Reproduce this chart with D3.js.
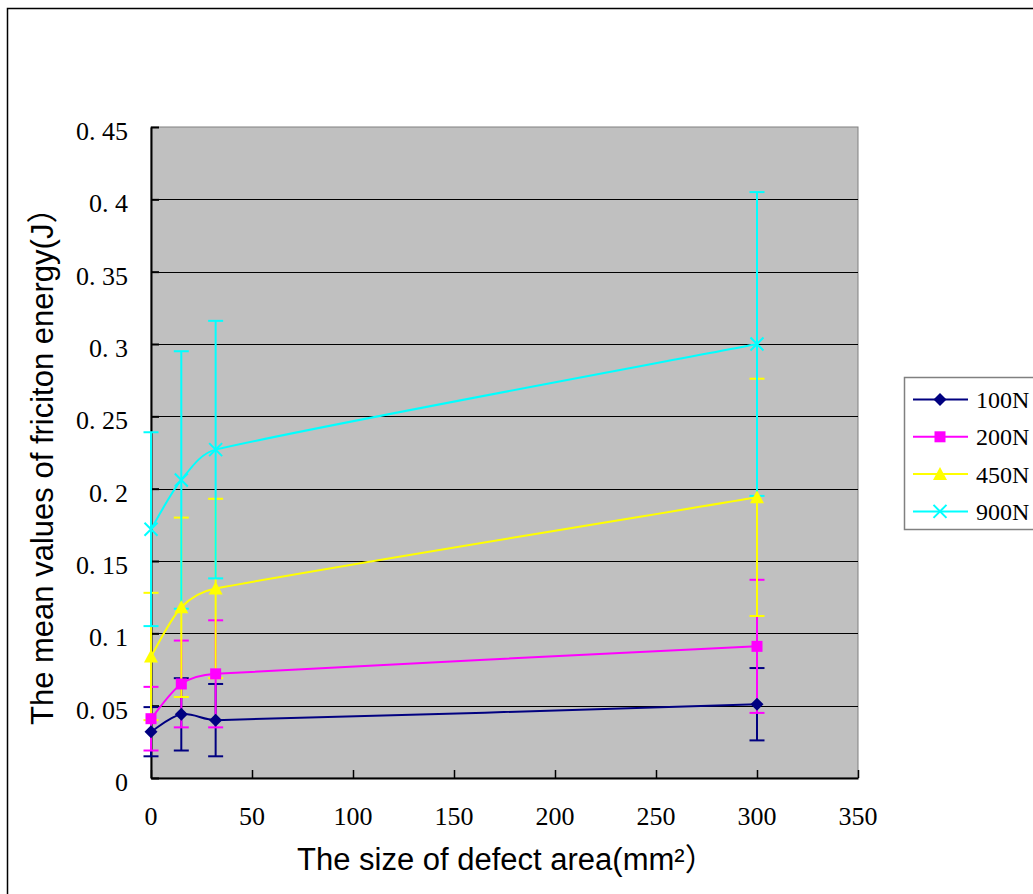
<!DOCTYPE html>
<html>
<head>
<meta charset="utf-8">
<script src="https://cdn.jsdelivr.net/npm/d3@7"></script>
<style>
  html, body { margin: 0; padding: 0; background: #fff; }
  svg { display: block; }
</style>
</head>
<body>
<svg></svg>
<script>
  // defect area (mm²)
  const areas = [0, 15, 32, 300]

  const seriesNames = ['100N', '200N', '450N', '900N']
  const mean100 = [0.032, 0.044, 0.040, 0.051]
  const err100 = [0.017, 0.025, 0.025, 0.025]
  const mean200 = [0.041, 0.065, 0.072, 0.091]
  const err200 = [0.022, 0.030, 0.037, 0.046]
  const mean450 = [0.084, 0.118, 0.131, 0.194]
  const err450 = [0.044, 0.062, 0.062, 0.082]
  const mean900 = [0.172, 0.206, 0.227, 0.300]
  const err900 = [0.067, 0.089, 0.089, 0.105]

  const colors = ['#000080', '#ff00ff', '#ffff00', '#00ffff']
  const shapes = ['diamond', 'square', 'triangle', 'cross']

  const xTicks = [0, 50, 100, 150, 200, 250, 300, 350]
  const yTicks = [0, 0.05, 0.1, 0.15, 0.2, 0.25, 0.3, 0.35, 0.4, 0.45]

  const xTitle = 'The size of defect area(mm²）'
  const yTitle = 'The mean values of friciton energy(J）'

  const width = 1033
  const height = 894
  const plot = { left: 151, right: 858, top: 127, bottom: 778 }

  const means = [mean100, mean200, mean450, mean900]
  const errs = [err100, err200, err450, err900]
  const series = seriesNames.map((name, i) => ({
    name,
    color: colors[i],
    shape: shapes[i],
    points: areas.map((a, j) => ({ x: a, y: means[i][j], e: errs[i][j] }))
  }))

  const svg = d3.select('svg').
    attr('width', width).
    attr('height', height)

  // outer chart frame
  svg.append('rect').
    attr('x', 7.5).attr('y', 8.5).
    attr('width', 1040).attr('height', 900).
    attr('fill', '#fff').
    attr('stroke', '#000').attr('stroke-width', 1.5)

  const x = d3.scaleLinear().domain([0, 350]).range([plot.left, plot.right])
  const y = d3.scaleLinear().domain([0, 0.45]).range([plot.bottom, plot.top])

  // plot area
  svg.append('rect').
    attr('x', plot.left).attr('y', plot.top).
    attr('width', plot.right - plot.left).
    attr('height', plot.bottom - plot.top).
    attr('fill', '#c0c0c0').
    attr('stroke', '#808080').attr('stroke-width', 1)

  svg.append('g').
    selectAll('line').data(yTicks.filter(t => t > 0 && t < 0.45)).
    enter().append('line').
    attr('x1', plot.left).attr('x2', plot.right).
    attr('y1', d => Math.round(y(d)) + 0.5).
    attr('y2', d => Math.round(y(d)) + 0.5).
    attr('stroke', '#000').attr('stroke-width', 1)

  const fmt = d => d === 0 ? '0' : d3.format('.2~f')(d).replace('.', '. ')

  // y axis: ticks inside
  const yAxis = svg.append('g').
    attr('transform', `translate(${plot.left},0)`).
    call(d3.axisRight(y).tickValues(yTicks).tickSizeInner(8).tickSizeOuter(0).tickFormat(''))
  yAxis.select('.domain').attr('stroke', '#000').attr('stroke-width', 2)
  yAxis.selectAll('.tick line').attr('stroke', '#000').attr('stroke-width', 2)

  svg.append('g').
    selectAll('text').data(yTicks).
    enter().append('text').
    attr('x', 128).
    attr('y', d => y(d) + 13).
    attr('text-anchor', 'end').
    attr('font-family', '"Liberation Serif", "DejaVu Serif", serif').
    attr('font-size', 26).
    attr('fill', '#000').
    style('white-space', 'pre').
    text(fmt)

  // x axis: ticks inside
  const xAxis = svg.append('g').
    attr('transform', `translate(0,${plot.bottom})`).
    call(d3.axisTop(x).tickValues(xTicks).tickSizeInner(8).tickSizeOuter(0).tickFormat(''))
  xAxis.select('.domain').attr('stroke', '#000').attr('stroke-width', 2)
  xAxis.selectAll('.tick line').attr('stroke', '#000').attr('stroke-width', 1.5)

  svg.append('g').
    selectAll('text').data(xTicks).
    enter().append('text').
    attr('x', d => x(d)).
    attr('y', plot.bottom + 47).
    attr('text-anchor', 'middle').
    attr('font-family', '"Liberation Serif", "DejaVu Serif", serif').
    attr('font-size', 26).
    attr('fill', '#000').
    text(d => d)

  // axis titles
  svg.append('text').
    attr('x', 297).attr('y', 870).
    attr('font-family', '"Liberation Sans", Arial, "Noto Sans CJK SC", sans-serif').
    attr('font-size', 31).
    attr('fill', '#000').
    text(xTitle)

  svg.append('text').
    attr('transform', 'translate(53,725) rotate(-90)').
    attr('font-family', '"Liberation Sans", Arial, "Noto Sans CJK SC", sans-serif').
    attr('font-size', 31).
    attr('fill', '#000').
    text(yTitle)

  // error bars
  const capW = 7.5
  const eb = svg.append('g')
  series.forEach(s => {
    const g = eb.append('g').attr('stroke', s.color).attr('stroke-width', 2)
    g.selectAll('line.v').data(s.points).enter().append('line').
      attr('x1', d => x(d.x)).attr('x2', d => x(d.x)).
      attr('y1', d => y(d.y - d.e)).attr('y2', d => y(d.y + d.e))
    g.selectAll('line.hi').data(s.points).enter().append('line').
      attr('x1', d => x(d.x) - capW).attr('x2', d => x(d.x) + capW).
      attr('y1', d => y(d.y + d.e)).attr('y2', d => y(d.y + d.e))
    g.selectAll('line.lo').data(s.points).enter().append('line').
      attr('x1', d => x(d.x) - capW).attr('x2', d => x(d.x) + capW).
      attr('y1', d => y(d.y - d.e)).attr('y2', d => y(d.y - d.e))
  })

  // spreadsheet-like smoothing: bezier with tangents from neighbours,
  // control length capped by segment length so short segments don't loop
  function smoothPath (pts) {
    const n = pts.length
    const tan = pts.map((p, i) => {
      const a = pts[Math.max(i - 1, 0)]
      const b = pts[Math.min(i + 1, n - 1)]
      return [b[0] - a[0], b[1] - a[1]]
    })
    const ctrl = (p, t, seg, sgn) => {
      const len = Math.hypot(t[0], t[1])
      const L = Math.min(len / 6, seg / 3)
      return [p[0] + sgn * t[0] / len * L, p[1] + sgn * t[1] / len * L]
    }
    let d = `M${pts[0][0]},${pts[0][1]}`
    for (let i = 0; i < n - 1; i++) {
      const p = pts[i]
      const q = pts[i + 1]
      const seg = Math.hypot(q[0] - p[0], q[1] - p[1])
      const c1 = ctrl(p, tan[i], seg, 1)
      const c2 = ctrl(q, tan[i + 1], seg, -1)
      d += `C${c1[0]},${c1[1]} ${c2[0]},${c2[1]} ${q[0]},${q[1]}`
    }
    return d
  }

  svg.append('g').
    selectAll('path').data(series).
    enter().append('path').
    attr('d', d => smoothPath(d.points.map(p => [x(p.x), y(p.y)]))).
    attr('fill', 'none').
    attr('stroke', d => d.color).
    attr('stroke-width', 2)

  // marker shapes
  function marker (sel, shape, color) {
    if (shape === 'diamond') {
      sel.append('path').attr('d', 'M0,-6.5L6.5,0L0,6.5L-6.5,0Z').attr('fill', color)
    } else if (shape === 'square') {
      sel.append('rect').attr('x', -5.5).attr('y', -5.5).
        attr('width', 11).attr('height', 11).attr('fill', color)
    } else if (shape === 'triangle') {
      sel.append('path').attr('d', 'M0,-7L7,6L-7,6Z').attr('fill', color)
    } else {
      sel.append('path').attr('d', 'M-6.5,-6.5L6.5,6.5M-6.5,6.5L6.5,-6.5').
        attr('stroke', color).attr('stroke-width', 2).attr('fill', 'none')
    }
  }

  const mk = svg.append('g')
  series.forEach(s => {
    s.points.forEach(p => {
      const g = mk.append('g').attr('transform', `translate(${x(p.x)},${y(p.y)})`)
      marker(g, s.shape, s.color)
    })
  })

  // legend
  const legend = svg.append('g')
  legend.append('rect').
    attr('x', 904.5).attr('y', 377.5).
    attr('width', 200).attr('height', 152).
    attr('fill', '#fff').
    attr('stroke', '#808080').attr('stroke-width', 1.5)

  const item = legend.selectAll('g.item').data(series).
    enter().append('g').
    attr('transform', (d, i) => `translate(0,${399.5 + i * 37.3})`)

  item.append('line').
    attr('x1', 913).attr('x2', 968).
    attr('stroke', d => d.color).attr('stroke-width', 2)

  item.each(function (d) {
    const g = d3.select(this).append('g').attr('transform', 'translate(940,0)')
    marker(g, d.shape, d.color)
  })

  item.append('text').
    attr('x', 976).attr('y', 8.5).
    attr('font-family', '"Liberation Serif", "DejaVu Serif", serif').
    attr('font-size', 24).
    attr('fill', '#000').
    text(d => d.name)
</script>
</body>
</html>
